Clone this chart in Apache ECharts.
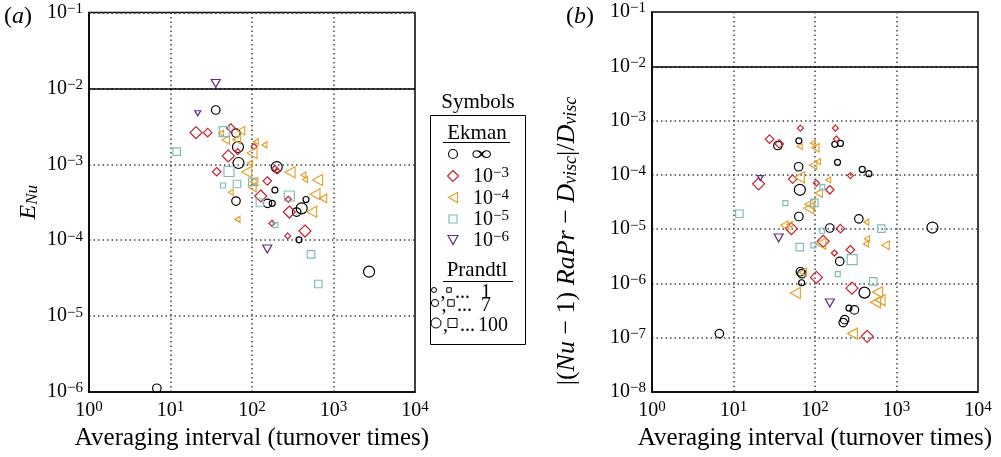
<!DOCTYPE html>
<html>
<head>
<meta charset="utf-8">
<script src="https://cdn.jsdelivr.net/npm/echarts@6/dist/echarts.min.js"></script>
<style>
  html, body { margin: 0; padding: 0; background: #fff; }
  #main { width: 1001px; height: 457px; }
</style>
</head>
<body>
<div id="main"></div>
<script>
// each point: [averaging interval, value, Prandtl]
// panel (a): E_Nu
var aInf = [[35.9, 5.19e-3, 7], [63.6, 2.58e-3, 7], [67.3, 1.69e-3, 100], [68.3, 1.04e-3, 100],
  [63.6, 3.28e-4, 7], [201, 9.2e-4, 100], [191, 4.58e-4, 1], [155, 3.06e-4, 7], [177, 3.06e-4, 1],
  [407, 2.63e-4, 100], [460, 3.44e-4, 1], [353, 2.35e-4, 7], [377, 1.01e-4, 1], [2730, 3.85e-5, 100],
  [6.8, 1.12e-6, 7]];
var aEk3 = [[20.6, 2.61e-3, 100], [28.6, 2.61e-3, 7], [54.8, 3.01e-3, 7], [51.2, 1.29e-3, 100],
  [66.8, 1.47e-3, 1], [36.9, 7.98e-4, 7], [106, 1.71e-3, 1], [154, 6.03e-4, 7], [128, 3.82e-4, 100],
  [191, 8.81e-4, 1], [203, 8.16e-4, 1], [279, 3.46e-4, 1], [287, 2.35e-4, 100], [176, 1.67e-4, 1],
  [447, 1.32e-4, 100], [274, 1.14e-4, 1]];
var aEk4 = [[41.7, 2.56e-3, 1], [47.6, 2.09e-3, 7], [73.3, 2.77e-3, 7], [64.9, 2.13e-3, 7],
  [112, 1.99e-3, 1], [142, 1.80e-3, 1], [100, 1.41e-3, 100], [94.5, 1.04e-3, 1], [86.1, 7.92e-4, 100],
  [106, 5.90e-4, 7], [101, 4.94e-4, 7], [54.8, 4.28e-4, 1], [66.4, 1.88e-4, 1], [293, 7.85e-4, 100],
  [426, 7.23e-4, 1], [447, 6.31e-4, 1], [637, 6.21e-4, 100], [593, 4.03e-4, 100], [743, 3.56e-4, 7],
  [540, 2.37e-4, 100]];
var aEk5 = [[11.9, 1.47e-3, 7], [45.7, 2.69e-3, 100], [52.2, 8.04e-4, 100], [44.1, 5.26e-4, 1],
  [65.5, 5.50e-4, 7], [101, 5.85e-4, 7], [125, 3.14e-4, 7], [287, 3.82e-4, 100], [194, 1.58e-4, 1],
  [530, 6.52e-5, 7], [651, 2.65e-5, 7]];
var aEk6 = [[35.9, 1.16e-2, 7], [21.6, 4.70e-3, 1], [154, 7.66e-5, 7]];

// panel (b): |(Nu-1) Ra Pr - D_visc| / D_visc
var bInf = [[35.0, 3.47e-4, 7], [63.4, 4.23e-4, 1], [63.0, 1.41e-4, 7], [65.2, 5.31e-5, 100],
  [63.4, 1.71e-5, 7], [175, 3.65e-4, 1], [205, 3.80e-4, 1], [189, 1.70e-4, 1], [380, 1.26e-4, 1],
  [458, 1.05e-4, 1], [345, 1.55e-5, 7], [152, 1.05e-5, 7], [2760, 1.07e-5, 100], [201, 2.55e-6, 7],
  [66.1, 1.64e-6, 7], [69.0, 1.51e-6, 7], [68.6, 1.03e-6, 1], [405, 6.76e-7, 100], [261, 3.51e-7, 1],
  [305, 3.25e-7, 7], [231, 2.15e-7, 7], [222, 1.90e-7, 7], [6.71, 1.19e-7, 7]];
var bEk3 = [[66.1, 7.24e-4, 1], [178, 7.24e-4, 1], [183, 4.55e-4, 1], [27.7, 4.55e-4, 7],
  [36.5, 3.72e-4, 7], [20.3, 6.84e-5, 100], [53.2, 8.36e-5, 7], [104, 7.05e-5, 1], [152, 5.31e-5, 7],
  [272, 9.68e-5, 1], [51.3, 1.02e-5, 100], [205, 1.02e-5, 7], [126, 5.98e-6, 100], [272, 4.18e-6, 7],
  [173, 3.63e-6, 1], [104, 1.29e-6, 100], [284, 8.18e-7, 100], [437, 1.06e-7, 100]];
var bEk4 = [[64.9, 3.33e-4, 1], [94.8, 3.84e-4, 1], [101, 3.15e-4, 7], [94.8, 1.50e-4, 7],
  [109, 1.76e-4, 1], [64.3, 9.02e-5, 100], [145, 8.11e-5, 1], [111, 4.61e-5, 7], [86.5, 2.87e-5, 100],
  [83.7, 2.43e-5, 100], [42.0, 1.18e-5, 7], [48.9, 1.21e-5, 1], [426, 1.35e-5, 1], [118, 5.38e-6, 100],
  [435, 6.65e-6, 1], [423, 5.35e-6, 1], [735, 5.06e-6, 7], [71.0, 1.61e-6, 7], [57.4, 6.67e-7, 100],
  [586, 6.90e-7, 100], [629, 4.92e-7, 100], [553, 4.48e-7, 100], [288, 1.19e-7, 100]];
var bEk5 = [[11.8, 1.92e-5, 7], [43.3, 3.02e-5, 1], [98.3, 3.06e-5, 7], [123, 5.96e-5, 1],
  [123, 9.35e-6, 1], [95.5, 5.01e-6, 1], [64.9, 4.65e-6, 7], [286, 2.74e-6, 100], [190, 1.49e-6, 1],
  [650, 1.02e-5, 7], [518, 1.09e-6, 7]];
var bEk6 = [[21.3, 8.71e-5, 1], [35.8, 6.86e-6, 7], [152, 4.37e-7, 7]];

var ekmanLabels = ['∞', '10{sup|−3}', '10{sup|−4}', '10{sup|−5}', '10{sup|−6}'];
var prandtlLabels = ['1', '7', '100'];

var serif = '"Liberation Serif", "Times New Roman", serif';
var COL = { inf: '#000000', e3: '#c8202e', e4: '#e3a12c', e5: '#7fbdbd', e6: '#5e2d86' };
var SYM = {
  inf: 'circle', e3: 'diamond', e4: 'path://M0,5L10,0L10,10Z',
  e5: 'rect', e6: 'path://M0,0L10,0L5,10Z'
};
var SIZE = {
  inf: { 1: 6, 7: 8.5, 100: 11 },
  e3: { 1: 6, 7: 8.5, 100: 12 },
  e4: { 1: [5, 6], 7: [7.5, 8.5], 100: [10, 11] },
  e5: { 1: 5, 7: 7.5, 100: 10 },
  e6: { 1: [6, 5], 7: [9, 8], 100: [11, 10] }
};

function supLabel(v) {
  var e = Math.round(Math.log(v) / Math.LN10);
  return '10{sup|' + (e < 0 ? '−' + (-e) : e) + '}';
}

var tickRich = { sup: { fontSize: 15, fontFamily: serif, verticalAlign: 'top', padding: [0, 0, 7, 0] } };

function xAx(grid) {
  return {
    type: 'log', logBase: 10, min: 1, max: 10000, gridIndex: grid,
    name: 'Averaging interval (turnover times)', nameLocation: 'middle', nameGap: 34,
    nameTextStyle: { fontFamily: serif, fontSize: 25, color: '#000' },
    axisLine: { show: true, lineStyle: { color: '#000', width: 1.5 } },
    axisTick: { show: false },
    axisLabel: { formatter: supLabel, fontFamily: serif, fontSize: 20, color: '#000', margin: 8, rich: tickRich },
    splitLine: { show: true, lineStyle: { color: '#444', type: [1.5, 3], width: 1.5 } }
  };
}

function yAx(grid, min, name, gap, pad, rich) {
  return {
    type: 'log', logBase: 10, min: min, max: 0.1, gridIndex: grid,
    name: name, nameLocation: 'middle', nameGap: gap,
    nameTextStyle: { fontFamily: serif, fontSize: 24, color: '#000', rich: rich, padding: pad },
    axisLine: { show: true, lineStyle: { color: '#000', width: 1.5 } },
    axisTick: { show: false },
    axisLabel: { formatter: supLabel, fontFamily: serif, fontSize: 20, color: '#000', margin: 6, rich: tickRich },
    splitLine: { show: true, lineStyle: { color: '#444', type: [1.5, 3], width: 1.5 } }
  };
}

function nameRich(size) {
  return {
    n: { fontFamily: serif, fontSize: size },
    i: { fontFamily: serif, fontSize: size, fontStyle: 'italic' },
    sub: { fontFamily: serif, fontSize: Math.round(size * 0.7), fontStyle: 'italic', verticalAlign: 'bottom', padding: [8, 0, 0, 0] }
  };
}

function scat(key, data, idx) {
  return {
    type: 'scatter', xAxisIndex: idx, yAxisIndex: idx, data: data,
    symbol: SYM[key],
    symbolSize: function (v) { return SIZE[key][v[2]]; },
    itemStyle: { color: 'rgba(0,0,0,0)', borderColor: COL[key], borderWidth: 1.2, opacity: 1 },
    emphasis: { disabled: true }, silent: true
  };
}

function limitLine(idx) {
  return {
    type: 'line', xAxisIndex: idx, yAxisIndex: idx, data: [], silent: true,
    markLine: {
      silent: true, symbol: 'none', label: { show: false },
      lineStyle: { color: '#000', type: 'solid', width: 1.5 },
      data: [{ yAxis: 0.01 }]
    }
  };
}

// legend box drawn by hand
var legend = [];
function txt(x, y, s, size, align, vAlign, rich) {
  var el = { type: 'text', x: x, y: y, silent: true,
    style: { text: s, font: size + 'px ' + serif, fill: '#000', align: align || 'left',
      verticalAlign: vAlign || 'middle', rich: rich } };
  legend.push(el);
  return el;
}
txt(478, 102, 'Symbols', 21, 'center');
legend.push({ type: 'rect', shape: { x: 430.5, y: 115.5, width: 95, height: 229 },
  style: { fill: 'none', stroke: '#000', lineWidth: 1 }, silent: true });
txt(477, 133, 'Ekman', 21, 'center');
legend.push({ type: 'line', shape: { x1: 443, y1: 142.5, x2: 510, y2: 142.5 }, style: { stroke: '#000', lineWidth: 1.2 } });
var rowY = [154, 176, 197.5, 219, 240];
var gx = 453;
legend.push({ type: 'circle', shape: { cx: gx, cy: rowY[0], r: 4.5 }, style: { fill: 'none', stroke: COL.inf, lineWidth: 1.2 } });
legend.push({ type: 'polygon', shape: { points: [[gx, rowY[1] - 5.5], [gx + 5.5, rowY[1]], [gx, rowY[1] + 5.5], [gx - 5.5, rowY[1]]] },
  style: { fill: 'none', stroke: COL.e3, lineWidth: 1.2 } });
legend.push({ type: 'polygon', shape: { points: [[gx - 4.5, rowY[2]], [gx + 4.5, rowY[2] - 5], [gx + 4.5, rowY[2] + 5]] },
  style: { fill: 'none', stroke: COL.e4, lineWidth: 1.2 } });
legend.push({ type: 'rect', shape: { x: gx - 4, y: rowY[3] - 4, width: 8, height: 8 },
  style: { fill: 'none', stroke: COL.e5, lineWidth: 1.2 } });
legend.push({ type: 'polygon', shape: { points: [[gx - 5, rowY[4] - 4.5], [gx + 5, rowY[4] - 4.5], [gx, rowY[4] + 4.5]] },
  style: { fill: 'none', stroke: COL.e6, lineWidth: 1.2 } });
var inf = txt(471, rowY[0] + 1, '∞', 20, 'left');
inf.scaleX = 1.45;
for (var k = 1; k < ekmanLabels.length; k++) {
  txt(473, rowY[k] + 1, ekmanLabels[k], 20, 'left', 'middle', tickRich);
}
txt(477, 270, 'Prandtl', 21, 'center');
legend.push({ type: 'line', shape: { x1: 443, y1: 281.5, x2: 513, y2: 281.5 }, style: { stroke: '#000', lineWidth: 1.2 } });
var prY = [290, 303, 323];
var prR = [2.5, 3.6, 5];
var prSqX = [449, 451, 452.5];
var prDotX = [455, 457, 460];
var prNumX = [481, 481, 478];
for (var p = 0; p < 3; p++) {
  var y0 = prY[p], r = prR[p];
  legend.push({ type: 'circle', shape: { cx: 434 + p, cy: y0, r: r }, style: { fill: 'none', stroke: '#000', lineWidth: 1 } });
  txt(438 + r, y0 + 3, ',', 20, 'left');
  legend.push({ type: 'rect', shape: { x: prSqX[p] - r * 0.9, y: y0 - r * 0.9, width: r * 1.8, height: r * 1.8 },
    style: { fill: 'none', stroke: '#000', lineWidth: 1 } });
  txt(prDotX[p], y0 + 3, '...', 20, 'left');
  txt(prNumX[p], y0 + 3, prandtlLabels[p], 20, 'left');
}
var panelRich = { i: { fontFamily: serif, fontSize: 24, fontStyle: 'italic' } };
txt(4, 17, '({i|a})', 24, 'left', 'middle', panelRich);
txt(566, 17, '({i|b})', 24, 'left', 'middle', panelRich);

var chart = echarts.init(document.getElementById('main'), null, { renderer: 'canvas' });
chart.setOption({
  animation: false,
  backgroundColor: '#fff',
  grid: [
    { left: 89, top: 12.5, width: 326, height: 379.5, show: true, borderColor: '#000', borderWidth: 1.5, backgroundColor: 'transparent' },
    { left: 652, top: 12, width: 326, height: 380, show: true, borderColor: '#000', borderWidth: 1.5, backgroundColor: 'transparent' }
  ],
  xAxis: [xAx(0), xAx(1)],
  yAxis: [
    yAx(0, 1e-6, '{i|E}{sub|Nu}', 48, 0, nameRich(24)),
    yAx(1, 1e-8, '{n||(}{i|Nu}{n| − 1) }{i|RaPr}{n| − }{i|D}{sub|visc}{n||/}{i|D}{sub|visc}', 72, [0, 78, 0, 0], nameRich(26))
  ],
  graphic: legend,
  series: [
    limitLine(0), limitLine(1),
    scat('inf', aInf, 0), scat('e3', aEk3, 0), scat('e4', aEk4, 0), scat('e5', aEk5, 0), scat('e6', aEk6, 0),
    scat('inf', bInf, 1), scat('e3', bEk3, 1), scat('e4', bEk4, 1), scat('e5', bEk5, 1), scat('e6', bEk6, 1)
  ]
});
</script>
</body>
</html>
